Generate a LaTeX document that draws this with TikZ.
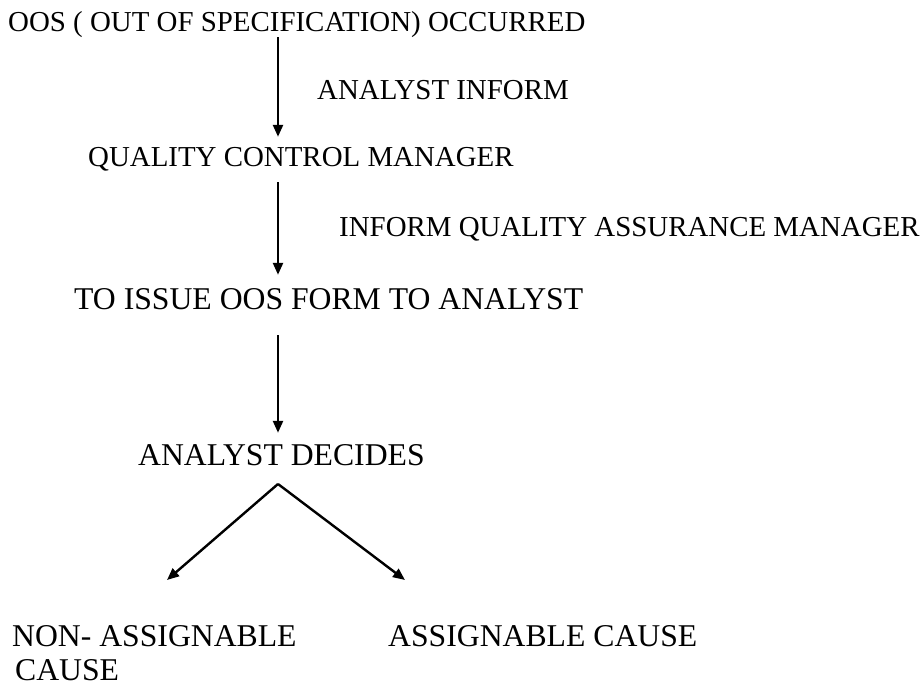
\documentclass[tikz,border=0pt]{standalone}
\usepackage{fontspec}
\setmainfont{Liberation Serif}
\usetikzlibrary{arrows.meta}

\tikzset{
  lbl/.style={anchor=base west, inner sep=0pt, text height=19pt, text depth=0pt,
    font=\fontsize{28.9pt}{34pt}\selectfont},
  biglbl/.style={lbl, text height=21pt, font=\fontsize{31.7pt}{38pt}\selectfont},
  flow/.style={line width=2.4pt, -{Triangle[length=12pt,width=10pt]}}
}

\begin{document}
\begin{tikzpicture}[x=1pt,y=-1pt]
  \useasboundingbox (0,0) rectangle (922,687);
  \coordinate (spine) at (278,0);
  % steps
  \node[lbl] (oos) at (8,32) {OOS ( OUT OF SPECIFICATION) OCCURRED};
  \node[lbl] (qcm) at (88,167) {QUALITY CONTROL MANAGER};
  \node[biglbl] (issue) at (74,310) {TO ISSUE OOS FORM TO ANALYST};
  \node[biglbl] (decides) at (138,465) {ANALYST DECIDES};
  \node[biglbl] (nonassign) at (12,646) {NON- ASSIGNABLE};
  \node[biglbl] (noncause) at (15,680) {CAUSE};
  \node[biglbl] (assign) at (388,646) {ASSIGNABLE CAUSE};
  % arrow labels
  \node[lbl] (inform) at (317,100) {ANALYST INFORM};
  \node[lbl] (informqa) at (339,237) {INFORM QUALITY ASSURANCE MANAGER};
  % arrows
  \draw[flow, shorten <=5pt, shorten >=11pt] (oos.south -| spine) -- (qcm.north -| spine);
  \draw[flow, shorten <=15pt, shorten >=14pt] (qcm.south -| spine) -- (issue.north -| spine);
  \draw[flow, shorten <=25pt, shorten >=11pt] (issue.south -| spine) -- (decides.north -| spine);
  \coordinate (split) at (278,484);
  \coordinate (lefttip) at (167,580);
  \coordinate (righttip) at (405,580);
  \draw[flow] (split) -- (lefttip);
  \draw[flow] (split) -- (righttip);
\end{tikzpicture}
\end{document}
